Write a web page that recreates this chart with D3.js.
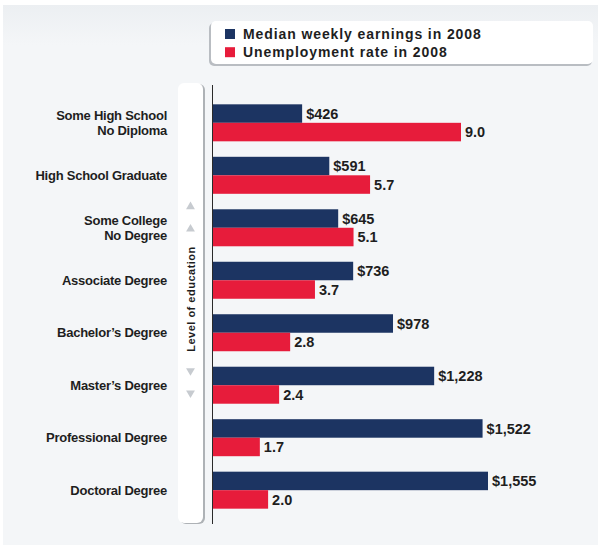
<!DOCTYPE html>
<html>
<head>
<meta charset="utf-8">
<script src="https://cdn.jsdelivr.net/npm/d3@7"></script>
<style>
  body { margin: 0; background: #fff; }
  text { font-family: "Liberation Sans", Arial, Helvetica, sans-serif; font-weight: bold; fill: #1e1e1e; }
</style>
</head>
<body>
<svg id="chart" width="600" height="552"></svg>
<script>
const categories = [
    "Some High School\nNo Diploma",
    "High School Graduate",
    "Some College\nNo Degree",
    "Associate Degree",
    "Bachelor\u2019s Degree",
    "Master\u2019s Degree",
    "Professional Degree",
    "Doctoral Degree"
];
const earnings = [426, 591, 645, 736, 978, 1228, 1522, 1555];
const unemployment = [9.0, 5.7, 5.1, 3.7, 2.8, 2.4, 1.7, 2.0];
const seriesNames = ["Median weekly earnings in 2008", "Unemployment rate in 2008"];
const axisTitle = "Level of education";

const navy = "#1c3462", red = "#e71c3b";

const svg = d3.select("#chart");

// background panel
const defs = svg.append("defs");
const grad = defs.append("linearGradient")
    .attr("id", "topband").attr("x1", 0).attr("y1", 0).attr("x2", 0).attr("y2", 1);
grad.append("stop").attr("offset", "0%").attr("stop-color", "#eceff2");
grad.append("stop").attr("offset", "100%").attr("stop-color", "#f4f6f8");

svg.append("rect").attr("x", 3).attr("y", 5).attr("width", 595).attr("height", 540).attr("fill", "#f4f6f8");
svg.append("rect").attr("x", 3).attr("y", 5).attr("width", 595).attr("height", 40).attr("fill", "url(#topband)");

// legend
const legend = svg.append("g");
legend.append("rect").attr("x", 209).attr("y", 23).attr("width", 383).attr("height", 43).attr("rx", 5)
    .attr("fill", "#b9bdc2");
legend.append("rect").attr("x", 211).attr("y", 21).attr("width", 382).attr("height", 43).attr("rx", 5)
    .attr("fill", "#fff");
const items = legend.selectAll(".item")
    .data(seriesNames)
    .enter().append("g")
    .attr("transform", (d, i) => `translate(225, ${29 + i * 18.2})`);
items.append("rect")
    .attr("width", 10).attr("height", 10)
    .attr("fill", (d, i) => i === 0 ? navy : red);
items.append("text")
    .attr("x", 18).attr("y", 9.5)
    .attr("font-size", "14px")
    .attr("letter-spacing", "0.9px")
    .text(d => d);

// y-axis title panel
svg.append("rect").attr("x", 180).attr("y", 84).attr("width", 25).attr("height", 440).attr("rx", 6).attr("fill", "#aeb2b6");
svg.append("rect").attr("x", 178).attr("y", 83).attr("width", 25).attr("height", 440).attr("rx", 6).attr("fill", "#fff");

svg.append("text")
    .attr("transform", "translate(194.5, 299) rotate(-90)")
    .attr("text-anchor", "middle")
    .attr("font-size", "11px")
    .attr("letter-spacing", "0.5px")
    .text(axisTitle);

const tri = d3.symbol(d3.symbolTriangle, 34);
[[206.7, 0], [229, 0], [370.7, 180], [393, 180]].forEach(([ty, rot]) => {
    svg.append("path")
        .attr("d", tri())
        .attr("transform", `translate(190.5, ${ty}) rotate(${rot})`)
        .attr("fill", "#c7cbd0");
});

// scales
const x0 = 213;
const yGroup = d3.scaleBand()
    .domain(d3.range(categories.length))
    .range([87, 526])
    .paddingInner(0.295)
    .paddingOuter(0.33);

const ySub = d3.scaleBand()
    .domain([0, 1])
    .range([0, yGroup.bandwidth()]);

const xEarn = d3.scaleLinear().domain([0, 1555]).range([19, 275]);
const xUnemp = d3.scaleLinear().domain([0, 9]).range([0, 248]);

const chart = svg.append("g").attr("transform", `translate(${x0}, 0)`);

const groups = chart.selectAll(".grp")
    .data(categories.map((c, i) => ({c, i, e: earnings[i], u: unemployment[i]})))
    .enter().append("g")
    .attr("class", "grp")
    .attr("transform", d => `translate(0, ${yGroup(d.i)})`);

groups.append("rect")
    .attr("y", ySub(0))
    .attr("height", ySub.bandwidth())
    .attr("width", d => xEarn(d.e))
    .attr("fill", navy);

groups.append("rect")
    .attr("y", ySub(1))
    .attr("height", ySub.bandwidth())
    .attr("width", d => xUnemp(d.u))
    .attr("fill", red);

groups.append("text")
    .attr("x", d => xEarn(d.e) + 4)
    .attr("y", ySub(0) + ySub.bandwidth() / 2)
    .attr("dy", "0.36em")
    .attr("font-size", "14.5px")
    .text(d => "$" + d3.format(",")(d.e));

groups.append("text")
    .attr("x", d => xUnemp(d.u) + 4)
    .attr("y", ySub(1) + ySub.bandwidth() / 2)
    .attr("dy", "0.36em")
    .attr("font-size", "14.5px")
    .text(d => d3.format(".1f")(d.u));

// category labels
const lab = svg.selectAll(".cat")
    .data(categories)
    .enter().append("text")
    .attr("class", "cat")
    .attr("text-anchor", "end")
    .attr("font-size", "13px")
    .attr("letter-spacing", "-0.25px")
    .attr("transform", (d, i) => `translate(167, ${yGroup(i) + yGroup.bandwidth() / 2})`);

lab.each(function(d) {
    const lines = d.split("\n");
    d3.select(this).selectAll("tspan")
        .data(lines)
        .enter().append("tspan")
        .attr("x", 0)
        .attr("y", (l, j) => (j - (lines.length - 1) / 2) * 15)
        .attr("dy", "0.36em")
        .text(l => l);
});

// axis line
svg.append("line")
    .attr("x1", x0 - 0.5).attr("x2", x0 - 0.5)
    .attr("y1", 85).attr("y2", 524)
    .attr("stroke", "#2a2a2a").attr("stroke-width", 1);
</script>
</body>
</html>
